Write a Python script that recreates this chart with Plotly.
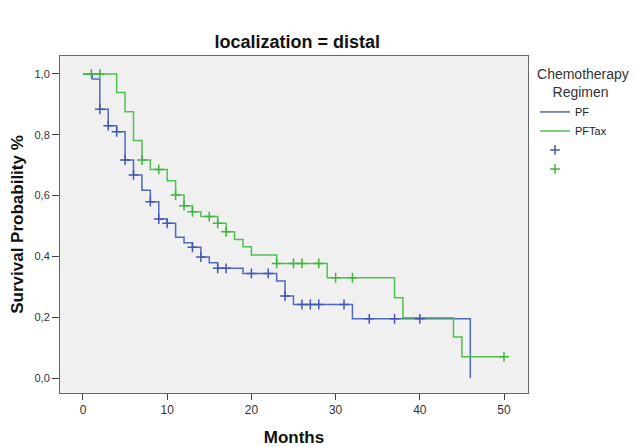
import numpy as np
import plotly.graph_objects as go

# PF group: step times and survival after each step
pf_times = [0, 1.1, 2.0, 3.0, 4.0, 5.0, 6.0, 7.0, 8.0, 9.0, 10.0, 11.0, 12.0, 13.0, 14.0, 15.0, 16.0, 19.0, 23.0, 24.0, 25.0, 32.0, 46.0]
pf_surv = [1.0, 0.983, 0.884, 0.83, 0.81, 0.717, 0.668, 0.618, 0.58, 0.523, 0.509, 0.463, 0.445, 0.43, 0.398, 0.379, 0.361, 0.344, 0.319, 0.27, 0.242, 0.195, 0.0]
pf_censor = [2.0, 3.0, 4.0, 5.0, 6.0, 8.0, 9.0, 10.0, 13.0, 14.0, 16.0, 17.0, 20.0, 22.0, 24.0, 26.0, 27.0, 28.0, 31.0, 34.0, 37.0, 40.0]

# PFTax group
pftax_times = [0, 4.0, 5.0, 6.0, 7.0, 8.0, 10.0, 11.0, 12.0, 13.0, 14.0, 16.0, 17.0, 18.0, 19.0, 20.0, 23.0, 29.0, 37.0, 38.0, 44.0, 45.0, 50.0]
pftax_surv = [1.0, 0.939, 0.876, 0.781, 0.717, 0.686, 0.649, 0.602, 0.567, 0.547, 0.531, 0.509, 0.481, 0.456, 0.432, 0.405, 0.377, 0.33, 0.264, 0.198, 0.135, 0.07, 0.07]
pftax_censor = [1.0, 2.0, 7.0, 9.0, 11.0, 12.0, 13.0, 15.0, 16.0, 17.0, 23.0, 25.0, 26.0, 28.0, 30.0, 32.0, 50.0]

x_ticks = [0, 10, 20, 30, 40, 50]
y_ticks = [0.0, 0.2, 0.4, 0.6, 0.8, 1.0]

BLUE = "#5068C0"
GREEN = "#50C050"


def surv_at(times, surv, t):
    val = surv[0]
    for ti, si in zip(times, surv):
        if ti <= t:
            val = si
    return val


fig = go.Figure()
fig.add_trace(go.Scatter(x=pf_times, y=pf_surv, mode="lines", line=dict(color=BLUE, width=1.5, shape="hv"), name="PF"))
fig.add_trace(go.Scatter(x=pftax_times, y=pftax_surv, mode="lines", line=dict(color=GREEN, width=1.5, shape="hv"), name="PFTax"))
fig.add_trace(go.Scatter(x=pf_censor, y=[surv_at(pf_times, pf_surv, t) for t in pf_censor], mode="markers",
                         marker=dict(symbol="cross-thin", size=7, line=dict(color="#4058B4", width=1.5)), name=" "))
fig.add_trace(go.Scatter(x=pftax_censor, y=[surv_at(pftax_times, pftax_surv, t) for t in pftax_censor], mode="markers",
                         marker=dict(symbol="cross-thin", size=7, line=dict(color="#40B440", width=1.5)), name="  "))

fig.update_layout(
    width=630, height=439,
    margin=dict(l=52, r=110, t=48, b=54, autoexpand=False),
    paper_bgcolor="white",
    plot_bgcolor="#F0F0F0",
    separators=",.",
    font=dict(family="Arial, Liberation Sans, sans-serif", color="#222", size=12),
    title=dict(text="<b>localization = distal</b>", x=0.459, xanchor="center", y=0.9226, yanchor="middle",
               font=dict(size=18, color="#111")),
    xaxis=dict(range=[-2.73, 52.85], tickvals=x_ticks, ticks="outside", ticklen=6, tickcolor="#444",
               showgrid=False, zeroline=False, showline=True, mirror=True, linecolor="#666", linewidth=1,
               automargin=False,
               title=dict(text="<b>Months</b>", font=dict(size=17, color="#111"), standoff=14),
               tickfont=dict(size=12, color="#333")),
    yaxis=dict(range=[-0.049, 1.059], tickvals=y_ticks, tickformat=".1f", ticks="outside", ticklen=7, tickcolor="#444",
               showgrid=False, zeroline=False, showline=True, mirror=True, linecolor="#666", linewidth=1,
               automargin=False,
               title=dict(text="<b>Survival Probability %</b>", font=dict(size=17, color="#111"), standoff=6),
               tickfont=dict(size=11, color="#333")),
    legend=dict(x=1.015, xanchor="left", y=0.985, yanchor="top", bgcolor="rgba(0,0,0,0)",
                title=dict(text="Chemotherapy<br>    Regimen", font=dict(size=14, color="#333")),
                font=dict(size=11), tracegroupgap=0, itemwidth=30),
    showlegend=True,
)

fig.write_html("out.html")
